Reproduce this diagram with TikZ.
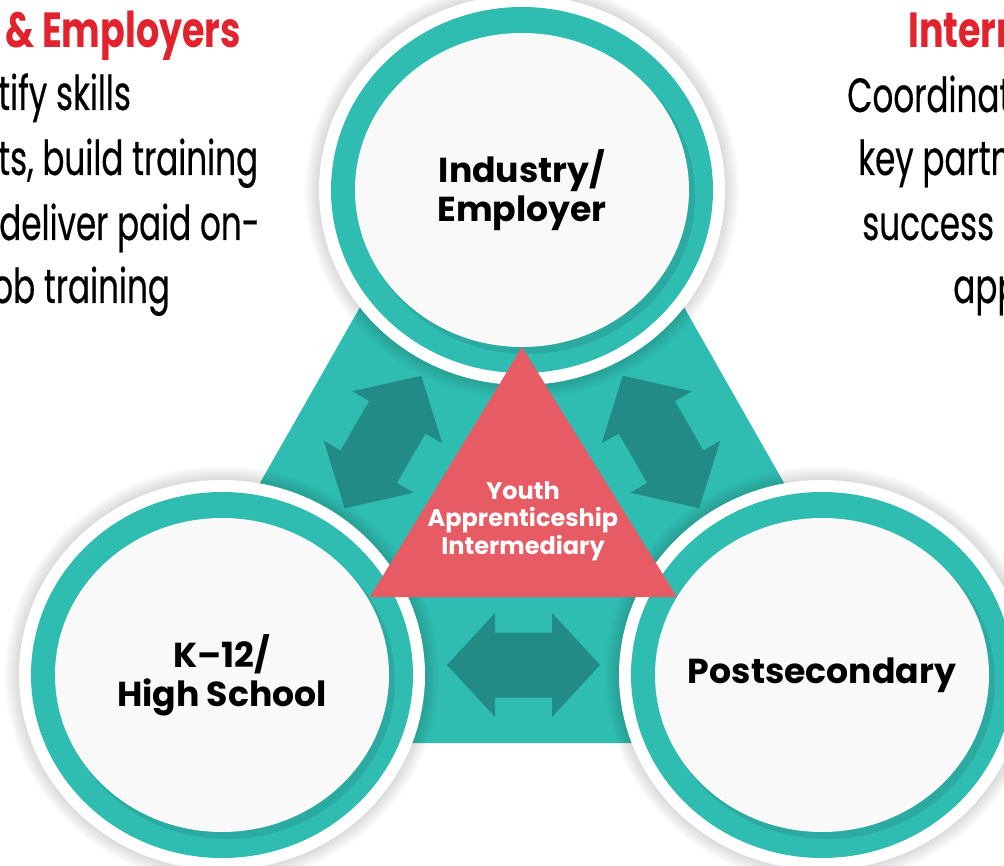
\documentclass[tikz,border=0pt]{standalone}
\usepackage{fontspec}
\setmainfont{Poppins}
\newfontfamily\cond{Poppins}[FakeStretch=0.68, FakeBold=0.4]
\newfontfamily\condh{Poppins}[FakeStretch=0.74]
\definecolor{tealA}{HTML}{2FBDB2}
\definecolor{tealB}{HTML}{2AAAA0}
\definecolor{tealC}{HTML}{238B85}
\definecolor{rose}{HTML}{E75B65}
\definecolor{hdred}{HTML}{E2232D}
\definecolor{diskw}{HTML}{F9F9F9}
\tikzset{%
    hd/.style={font=\condh\bfseries\fontsize{37}{42}\selectfont, text=hdred, anchor=base west, inner sep=0pt},
    bdy/.style={font=\cond\fontsize{36}{42}\selectfont, anchor=base west, inner sep=0pt},
    lbl/.style={font=\bfseries\fontsize{26}{29.25}\selectfont, align=center, inner sep=0pt},
    mid/.style={font=\bfseries\fontsize{18}{20.6}\selectfont, text=white, align=center, inner sep=0pt},
    hub/.pic={
        \foreach \k in {1,...,7}
            \fill[black, opacity=0.018] (0,0) ellipse [x radius=203+2*\k, y radius=195+2*\k];
        \fill[white] (0,0) ellipse [x radius=203, y radius=195];
        \fill[tealA] (0,0) ellipse [x radius=191, y radius=183];
        \fill[tealB] (5,6) ellipse [x radius=168, y radius=158];
        \fill[diskw] (0,0) ellipse [x radius=167, y radius=157];
    },
    twoway/.pic={
        \fill[tealC] (-76.5,0)--(-28.5,52)--(-28.5,32.5)--(28.5,32.5)--(28.5,52)--(76.5,0)
            --(28.5,-52)--(28.5,-32.5)--(-28.5,-32.5)--(-28.5,-52)--cycle;
    },
}

\begin{document}
\begin{tikzpicture}[x=0.75pt, y=-0.75pt]
    \useasboundingbox (0,0) rectangle (1004,866);
    \clip (0,0) rectangle (1004,866);
    \coordinate (ind) at (522,190);
    \coordinate (sch) at (222,675);
    \coordinate (pst) at (822,675);
    \coordinate (al) at (383,442);
    \coordinate (ar) at (661,442);
    \coordinate (ab) at (523.5,665);

    \fill[tealA] (384,265)--(660,265)--(796,504)--(660,743)--(384,743)--(248,504)--cycle;
    \pic[rotate=60] at (al) {twoway};
    \pic[rotate=-60] at (ar) {twoway};
    \pic at (ab) {twoway};

    \pic at (ind) {hub};
    \pic at (sch) {hub};
    \pic at (pst) {hub};

    \fill[rose] (522,347)--(677,597)--(370,597)--cycle;
    \node[mid] (yai) at (523,521) {Youth\\Apprenticeship\\Intermediary};

    \node[lbl] (ie) at (ind) {Industry/\\Employer};
    \node[lbl] (hs) at (sch) {K--12/\\High School};
    \node[lbl] (ps) at (pst) {Postsecondary};

    \node[hd] (h1) at (5,48) {\& Employers};
    \node[bdy] (b1) at (-2,110) {tify skills};
    \node[bdy] (b2) at (-2,175) {ts, build training};
    \node[bdy] (b3) at (-1,240) {deliver paid on-};
    \node[bdy] (b4) at (-8,303) {ob training};

    \node[hd] (h2) at (908,48) {Intern};
    \node[bdy] (c1) at (847,112) {Coordinate};
    \node[bdy] (c2) at (858,175) {key partn};
    \node[bdy] (c3) at (862,240) {success o};
    \node[bdy] (c4) at (953,303) {app};
\end{tikzpicture}
\end{document}
